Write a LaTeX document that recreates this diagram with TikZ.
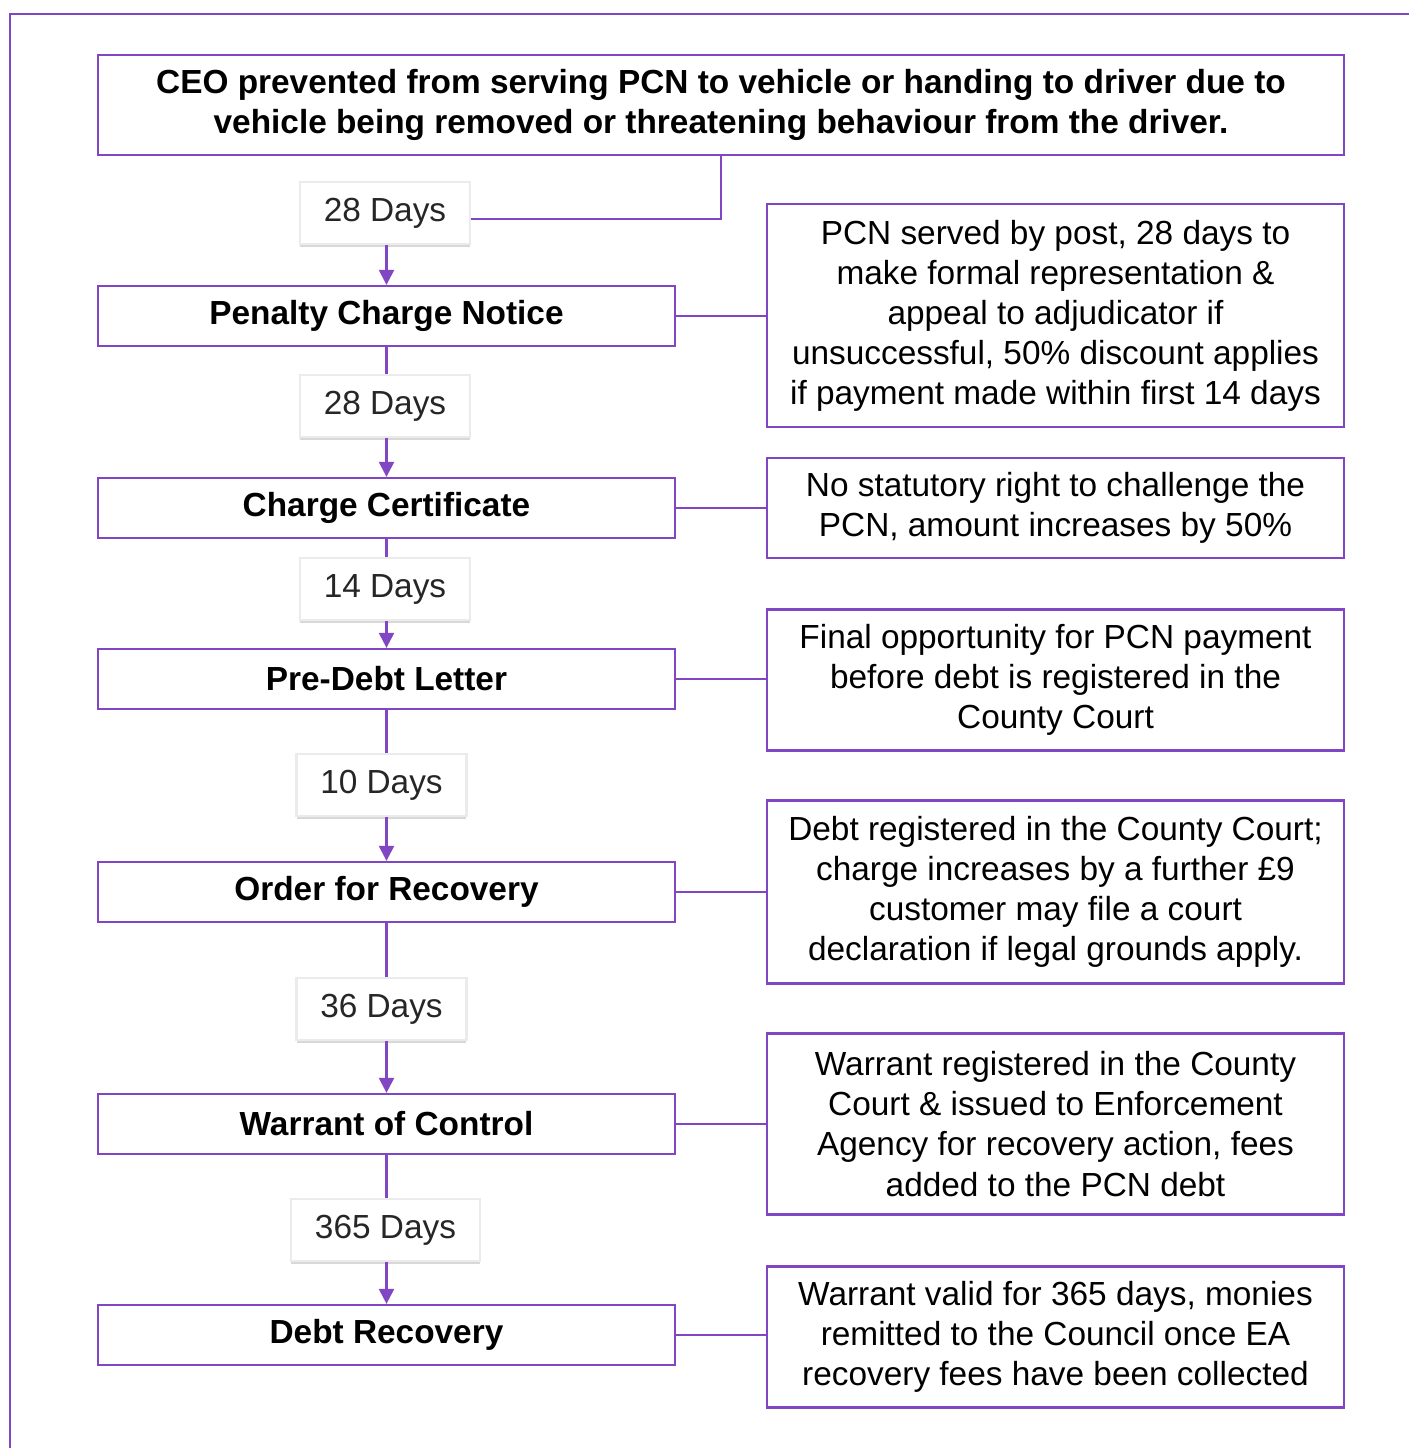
\documentclass[tikz,border=0pt]{standalone}
\usepackage{fontspec}
\setmainfont{Liberation Sans}
\usetikzlibrary{arrows.meta,shadows}

\definecolor{pcnpurple}{RGB}{128,70,195}

\begin{document}
\begin{tikzpicture}[x=0.02cm,y=-0.02cm,
  stage/.style={draw=pcnpurple,line width=1.3pt,fill=white,minimum width=11.54cm,
    minimum height=1.2cm,inner sep=0pt,font=\fontsize{19}{22.8}\selectfont\bfseries},
  note/.style={draw=pcnpurple,line width=1.3pt,fill=white,minimum width=11.54cm,
    inner sep=0pt,align=center,font=\fontsize{19}{22.8}\selectfont},
  days/.style={draw=black!8,line width=1.5pt,fill=white,minimum width=3.4cm,
    minimum height=1.24cm,inner sep=0pt,text=black!85,font=\fontsize{19}{22.8}\selectfont,
    drop shadow={shadow xshift=0pt,shadow yshift=-1.5pt,fill=black!30,opacity=0.5}},
  link/.style={draw=pcnpurple,line width=1.3pt},
  flow/.style={link,-{Triangle[length=0.3cm,width=0.3cm]}}]

\useasboundingbox (0,0) rectangle (1409,1448);

% outer frame
\draw[link] (10,1448) -- (10,14) -- (1409,14);

% top box
\node[stage,minimum width=24.92cm,minimum height=2cm,align=center] (ceo) at (721,105)
  {CEO prevented from serving PCN to vehicle or handing to driver due to\\
   vehicle being removed or threatening behaviour from the driver.};

% left column
\node[stage] (pcn) at (386.5,316) {Penalty Charge Notice};
\node[stage] (cc) at (386.5,508) {Charge Certificate};
\node[stage] (pdl) at (386.5,679) {Pre-Debt Letter};
\node[stage] (ofr) at (386.5,892) {Order for Recovery};
\node[stage] (woc) at (386.5,1124) {Warrant of Control};
\node[stage] (dr) at (386.5,1335) {Debt Recovery};

% day boxes
\node[days] (d1) at (385,213) {28 Days};
\node[days] (d2) at (385,406) {28 Days};
\node[days] (d3) at (385,589) {14 Days};
\node[days] (d4) at (381.5,785) {10 Days};
\node[days] (d5) at (381.5,1009) {36 Days};
\node[days,minimum width=3.78cm] (d6) at (385.5,1230) {365 Days};

% right column
\node[note,minimum height=4.46cm] (n1) at (1055.5,315.5)
  {PCN served by post, 28 days to\\ make formal representation \&\\ appeal to adjudicator if\\
   unsuccessful, 50\% discount applies\\ if payment made within first 14 days};
\node[note,minimum height=2cm] (n2) at (1055.5,508)
  {No statutory right to challenge the\\ PCN, amount increases by 50\%};
\node[note,minimum height=2.82cm] (n3) at (1055.5,680)
  {Final opportunity for PCN payment\\ before debt is registered in the\\ County Court};
\node[note,minimum height=3.66cm] (n4) at (1055.5,892)
  {Debt registered in the County Court;\\ charge increases by a further £9\\
   customer may file a court\\ declaration if legal grounds apply.};
\node[note,minimum height=3.62cm] (n5) at (1055.5,1124)
  {Warrant registered in the County\\ Court \& issued to Enforcement\\
   Agency for recovery action, fees\\ added to the PCN debt};
\node[note,minimum height=2.82cm] (n6) at (1055.5,1337)
  {Warrant valid for 365 days, monies\\ remitted to the Council once EA\\
   recovery fees have been collected};

% connectors
\draw[link] (ceo.south) |- ([yshift=-0.12cm]d1.east);
\draw[flow] (d1.south -| pcn) -- (pcn.north);
\draw[link] (pcn.south) -- (pcn.south |- d2.north);
\draw[flow] (d2.south -| cc) -- (cc.north);
\draw[link] (cc.south) -- (cc.south |- d3.north);
\draw[flow] (d3.south -| pdl) -- (pdl.north);
\draw[link] (pdl.south) -- (pdl.south |- d4.north);
\draw[flow] (d4.south -| ofr) -- (ofr.north);
\draw[link] (ofr.south) -- (ofr.south |- d5.north);
\draw[flow] (d5.south -| woc) -- (woc.north);
\draw[link] (woc.south) -- (woc.south |- d6.north);
\draw[flow] (d6.south -| dr) -- (dr.north);

\draw[link] (pcn.east) -- (pcn.east -| n1.west);
\draw[link] (cc.east) -- (cc.east -| n2.west);
\draw[link] (pdl.east) -- (pdl.east -| n3.west);
\draw[link] (ofr.east) -- (ofr.east -| n4.west);
\draw[link] (woc.east) -- (woc.east -| n5.west);
\draw[link] (dr.east) -- (dr.east -| n6.west);
\end{tikzpicture}
\end{document}
